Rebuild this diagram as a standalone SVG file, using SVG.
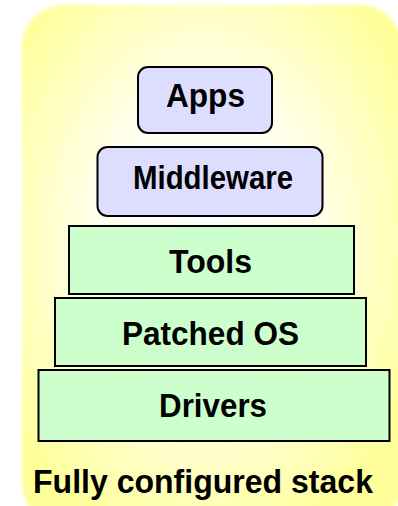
<svg xmlns="http://www.w3.org/2000/svg" width="398" height="506" viewBox="0 0 398 506">
<style>
  .lbl { font-family: "Liberation Sans", Arial, sans-serif; font-weight: bold; font-size: 33px; fill: #000; text-anchor: middle; }
  .blue { fill: #DDDDFF; stroke: #000; stroke-width: 2; }
  .green { fill: #CCFFCC; stroke: #000; stroke-width: 2; }
</style>
<defs>
  <radialGradient id="bg" cx="0.48" cy="0.45" r="0.62">
    <stop offset="0" stop-color="#FFFFFF"/>
    <stop offset="0.45" stop-color="#FFFFEE"/>
    <stop offset="1" stop-color="#FFFF99"/>
  </radialGradient>
  <filter id="soft" x="-5%" y="-5%" width="110%" height="110%">
    <feGaussianBlur stdDeviation="1.5"/>
  </filter>
</defs>
<rect width="398" height="506" fill="#FFFFFF"/>
<rect id="background" x="22" y="5" width="380" height="520" rx="42" ry="42" fill="url(#bg)" filter="url(#soft)"/>
<g id="connectors"></g>
<g id="apps">
  <rect class="blue" x="138" y="67" width="134" height="66" rx="10" ry="10"/>
  <text class="lbl" x="205.5" y="107" textLength="79" lengthAdjust="spacingAndGlyphs">Apps</text>
</g>
<g id="middleware">
  <rect class="blue" x="97.5" y="147" width="225" height="69" rx="10" ry="10"/>
  <text class="lbl" x="213" y="189" textLength="160" lengthAdjust="spacingAndGlyphs">Middleware</text>
</g>
<g id="tools">
  <rect class="green" x="69" y="226" width="285" height="68"/>
  <text class="lbl" x="210.5" y="272.5" textLength="83" lengthAdjust="spacingAndGlyphs">Tools</text>
</g>
<g id="patched-os">
  <rect class="green" x="55" y="298" width="311" height="68"/>
  <text class="lbl" x="210.5" y="345" textLength="177" lengthAdjust="spacingAndGlyphs">Patched OS</text>
</g>
<g id="drivers">
  <rect class="green" x="38.5" y="370" width="351" height="71"/>
  <text class="lbl" x="213" y="417" textLength="108" lengthAdjust="spacingAndGlyphs">Drivers</text>
</g>
<text id="caption" class="lbl" x="203" y="493" textLength="340" lengthAdjust="spacingAndGlyphs">Fully configured stack</text>
</svg>
